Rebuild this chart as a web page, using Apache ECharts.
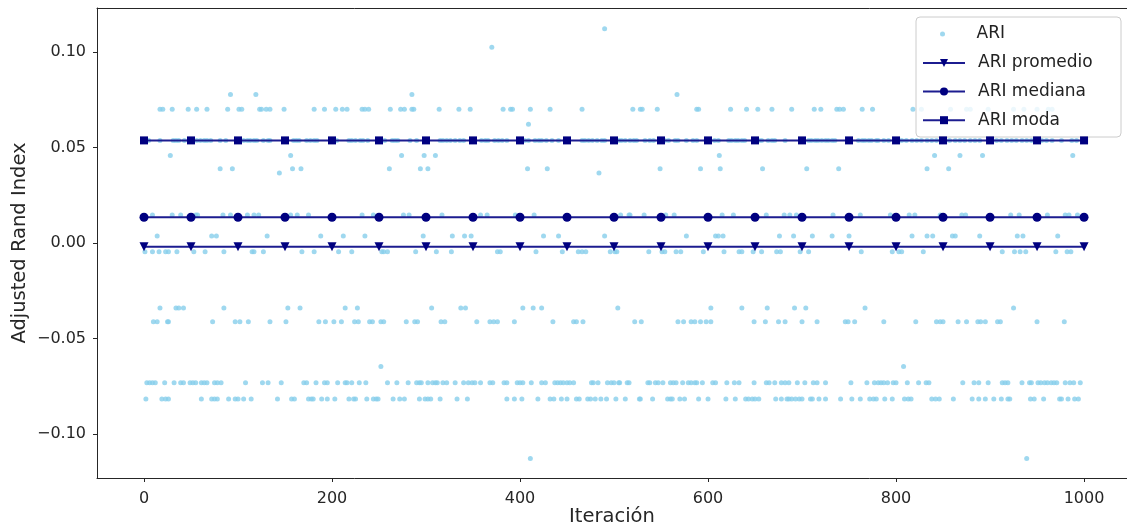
<!DOCTYPE html>
<html>
<head>
<meta charset="utf-8">
<script src="https://cdn.jsdelivr.net/npm/echarts@6/dist/echarts.min.js"></script>
<style>
  html, body { margin: 0; padding: 0; background: #fff; }
  #chart { width: 1127px; height: 530px; }
</style>
</head>
<body>
<div id="chart"></div>
<script>
// axis ticks
const iterTicks = [0, 200, 400, 600, 800, 1000];
const ariTicks = [-0.10, -0.05, 0.00, 0.05, 0.10];

// summary lines (markers every 50 iterations)
const markerIters = [0, 50, 100, 150, 200, 250, 300, 350, 400, 450, 500,
  550, 600, 650, 700, 750, 800, 850, 900, 950, 1000];
const ariPromedio = -0.0019;
const ariMediana = 0.0135;
const ariModa = 0.0537;

// ARI per iteration, grouped by the (discrete) value it took
const ariLevels = [0.1121, 0.1025, 0.0777, 0.0700, 0.0621, 0.0537, 0.0458, 0.0388, 0.0367,
  0.0147, 0.0037, -0.0046, -0.0340, -0.0412, -0.0646, -0.0732, -0.0816, -0.1128];

const it_0112 = [490];
const it_0102 = [370];
const it_0078 = [92, 119, 285, 567];
const it_0070 = [17, 20, 30, 47, 56, 67, 89, 101, 104, 123, 125, 130, 134, 149, 181, 192, 204, 211, 216, 232,
  235, 239, 262, 273, 277, 285, 287, 314, 335, 347, 382, 390, 392, 411, 432, 466,
  520, 528, 530, 546, 588, 590, 624, 641, 653, 668, 689, 713, 720, 737, 740, 744, 764, 775,
  818, 827, 858, 875, 879, 898, 925, 936, 950, 962, 966];
const it_0062 = [409];
const it_0054 = [0, 5, 17, 31, 34, 37, 43, 50, 56, 60, 64, 67, 71, 81, 87, 100, 106, 110, 113, 117, 120, 127,
  132, 134, 150, 159, 162, 165, 173, 177, 181, 184, 200, 205, 218, 221, 225, 230, 233, 238, 250, 256, 264,
  267, 270, 283, 290, 300, 315, 318, 322, 326, 331, 336, 340, 350, 359, 363, 366, 373, 377, 381, 386, 400,
  405, 409, 416, 420, 423, 428, 434, 441, 450, 466, 469, 473, 477, 482, 487, 490, 500, 505, 508, 512, 517,
  521, 524, 533, 538, 542, 550, 554, 558, 565, 568, 577, 584, 588, 600, 607, 611, 622, 625, 629, 632, 636,
  639, 650, 654, 657, 664, 668, 671, 682, 700, 707, 710, 714, 717, 721, 725, 728, 732, 735, 750, 760, 764,
  767, 771, 774, 779, 781, 787, 792, 800, 806, 811, 817, 822, 827, 833, 838, 843, 850, 857, 863, 868, 873,
  879, 884, 889, 900, 907, 912, 918, 923, 928, 934, 939, 944, 950, 955, 960, 966, 976, 987, 992, 1000];
const it_0046 = [28, 156, 274, 298, 310, 612, 841, 868, 892, 988];
const it_0039 = [81, 94, 158, 167, 261, 294, 302, 408, 429, 549, 592, 613, 658, 705, 739, 833, 856];
const it_0037 = [144, 484];
const it_0015 = [9, 30, 39, 55, 57, 84, 92, 110, 117, 122, 156, 163, 175, 232, 244, 276, 282, 317, 358, 365,
  395, 415, 507, 516, 517, 532, 555, 564, 615, 627, 662, 681, 687, 694, 733, 762, 794, 814, 820, 847, 870,
  874, 922, 931, 961, 980, 984, 993];
const it_0004 = [14, 72, 77, 131, 188, 212, 235, 297, 328, 341, 348, 425, 441, 490, 577, 608, 611, 616, 676,
  691, 711, 732, 750, 817, 833, 839, 860, 863, 889, 929, 935, 972];
const it_m0005 = [1, 9, 16, 23, 26, 35, 53, 65, 85, 115, 117, 127, 168, 181, 207, 221, 253, 255, 259, 289,
  311, 327, 376, 379, 417, 445, 462, 466, 470, 496, 501, 503, 537, 551, 554, 566, 571, 595, 617, 633, 636,
  648, 657, 673, 677, 698, 707, 763, 796, 803, 806, 829, 913, 926, 932, 938, 970, 982, 986];
const it_m0034 = [17, 34, 37, 42, 85, 153, 166, 214, 227, 306, 337, 342, 403, 414, 423, 504, 603, 636, 663,
  692, 704, 767, 925];
const it_m0041 = [10, 14, 25, 26, 73, 97, 102, 111, 134, 151, 186, 193, 202, 210, 224, 228,
  240, 243, 252, 255, 279, 288, 291, 316, 320, 354, 368, 372, 376, 394, 435, 457, 460, 467,
  522, 529, 568, 574, 582, 586, 592, 598, 603, 649, 661, 675, 682, 700, 716, 746, 749, 756,
  787, 821, 843, 847, 850, 866, 875, 887, 890, 895, 908, 911, 950, 979];
const it_m0065 = [252, 808];
const it_m0073 = [3, 6, 9, 12, 22, 32, 39, 42, 49, 52, 55, 61, 64, 67, 75, 78, 82, 108, 126, 132, 146, 170,
  173, 183, 192, 195, 206, 214, 216, 221, 229,
  236, 259, 269, 281, 290, 293, 295, 302, 307, 310, 312, 318, 322, 331, 340, 345, 349, 352, 358, 368, 371,
  383, 386, 397, 400, 403, 412, 423, 427, 437, 440, 443, 446, 450, 453, 457, 476, 478, 483, 493, 497, 500, 505,
  506, 514, 516, 536, 538, 544, 547, 552, 560, 563, 566, 573, 579, 582, 586, 588, 594, 605, 608, 620, 628,
  633, 649, 662, 665, 671, 678, 682, 686, 695, 703, 712, 716, 725, 752, 769, 777, 781,
  784, 787, 791, 797, 800, 812, 824, 832, 835, 871, 883, 888, 898, 913, 916, 919, 934, 942, 944, 951, 954,
  958, 961, 965, 968, 971, 980, 985, 989, 996];
const it_m0082 = [2, 19, 23, 26, 61, 72, 75, 78, 90, 97, 100, 106, 114, 142, 157, 160, 175, 178, 180, 189,
  195, 203, 218, 223,
  225, 237, 244, 247, 249, 265, 272, 277, 293, 299, 302, 305, 315, 333, 344, 386, 394, 402, 419, 432, 436,
  444, 450, 460, 463, 472, 475, 480, 486, 492, 502,
  512, 527, 528, 541, 557, 560, 562, 570, 575, 590, 600, 619, 629, 640, 643, 647, 650, 654, 672, 678, 684,
  686, 689, 693, 697, 700, 709, 711, 718, 725, 741, 753, 762, 772, 776, 779,
  788, 796, 809, 813, 816, 838, 842, 846, 861, 881, 888, 895, 904, 912, 919, 921, 943, 947, 957, 974, 976,
  983, 990, 994];
const it_m0113 = [411, 939];

const itersByLevel = [it_0112, it_0102, it_0078, it_0070, it_0062, it_0054, it_0046, it_0039, it_0037,
  it_0015, it_0004, it_m0005, it_m0034, it_m0041, it_m0065, it_m0073, it_m0082, it_m0113];

const ariPoints = [];
itersByLevel.forEach((iters, i) => {
  iters.forEach(x => ariPoints.push([x, ariLevels[i]]));
});
ariPoints.sort((a, b) => a[0] - b[0]);

const NAVY = '#000080';
const LINE = '#1c1c90';
const FONT = 'DejaVu Sans';
const INK = '#262626';

// x range runs past the right edge of the picture, as in the source figure
const X_MIN = -50, X_MAX = 1045.7;

function summaryLine(name, value, symbol, size) {
  return {
    name, type: 'line',
    data: markerIters.map(x => [x, value]),
    symbol, symbolSize: size,
    showSymbol: true,
    lineStyle: { color: LINE, width: 2 },
    itemStyle: { color: NAVY },
    emphasis: { disabled: true },
    animation: false,
    z: 3,
  };
}

const chart = echarts.init(document.getElementById('chart'), null, { renderer: 'canvas' });

chart.setOption({
  backgroundColor: '#fff',
  animation: false,
  textStyle: { fontFamily: FONT },
  grid: { left: 97, top: 8, right: 0, bottom: 52, outerBoundsMode: 'none' },
  xAxis: [{
    type: 'value', min: X_MIN, max: X_MAX,
    name: 'Iteración', nameLocation: 'middle', nameGap: 29, nameMoveOverlap: false,
    nameTextStyle: { fontSize: 19.5, color: INK, fontFamily: FONT },
    axisLine: { show: true, onZero: false, lineStyle: { color: INK, width: 1 } },
    axisTick: { show: true, inside: false, length: 4, customValues: iterTicks, lineStyle: { color: INK } },
    axisLabel: {
      customValues: iterTicks, margin: 13, fontSize: 16, color: INK, fontFamily: FONT,
      formatter: v => String(v),
    },
    splitLine: { show: false },
  }, {
    // top spine only
    type: 'value', position: 'top', min: X_MIN, max: X_MAX,
    axisLine: { show: true, onZero: false, lineStyle: { color: INK, width: 1 } },
    axisTick: { show: false }, axisLabel: { show: false }, splitLine: { show: false },
  }],
  yAxis: {
    type: 'value', min: -0.123, max: 0.123,
    name: 'Adjusted Rand Index', nameLocation: 'middle', nameGap: 67, nameMoveOverlap: false,
    nameTextStyle: { fontSize: 19.5, color: INK, fontFamily: FONT },
    axisLine: { show: true, onZero: false, lineStyle: { color: INK, width: 1 } },
    axisTick: { show: true, inside: false, length: 4, customValues: ariTicks, lineStyle: { color: INK } },
    axisLabel: {
      customValues: ariTicks, margin: 11, fontSize: 16, color: INK, fontFamily: FONT,
      formatter: v => (v < -1e-9 ? '\u2212' : '') + Math.abs(v).toFixed(2),
    },
    splitLine: { show: false },
  },
  graphic: [{
    type: 'rect', z: 3,
    shape: { x: 916, y: 17, width: 205, height: 120, r: 4 },
    style: { fill: 'rgba(255,255,255,0.8)', stroke: '#cccccc', lineWidth: 1 },
  }],
  legend: [{
    data: ['ARI'],
    orient: 'vertical', left: 940, top: 24, padding: 0,
    itemWidth: 42, itemHeight: 5, itemGap: 8.6,
    icon: 'circle',
    textStyle: { fontSize: 17, lineHeight: 20, color: '#222', fontFamily: FONT, padding: [0, 0, 0, 8] },
    selectedMode: false,
  }, {
    data: ['ARI promedio', 'ARI mediana', 'ARI moda'],
    orient: 'vertical', left: 922, top: 53, padding: 0,
    itemWidth: 42, itemHeight: 10, itemGap: 8.6,
    textStyle: { fontSize: 17, lineHeight: 20, color: '#222', fontFamily: FONT, padding: [0, 0, 0, 8] },
    selectedMode: false,
  }],
  series: [
    {
      name: 'ARI', type: 'scatter',
      data: ariPoints,
      symbol: 'circle', symbolSize: 5,
      itemStyle: { color: '#87ceeb' },
      emphasis: { disabled: true },
      z: 2,
    },
    summaryLine('ARI promedio', ariPromedio, 'path://M0,0 L10,0 L5,9 Z', 9),
    summaryLine('ARI mediana', ariMediana, 'circle', 9),
    summaryLine('ARI moda', ariModa, 'rect', 8),
  ],
});
</script>
</body>
</html>
